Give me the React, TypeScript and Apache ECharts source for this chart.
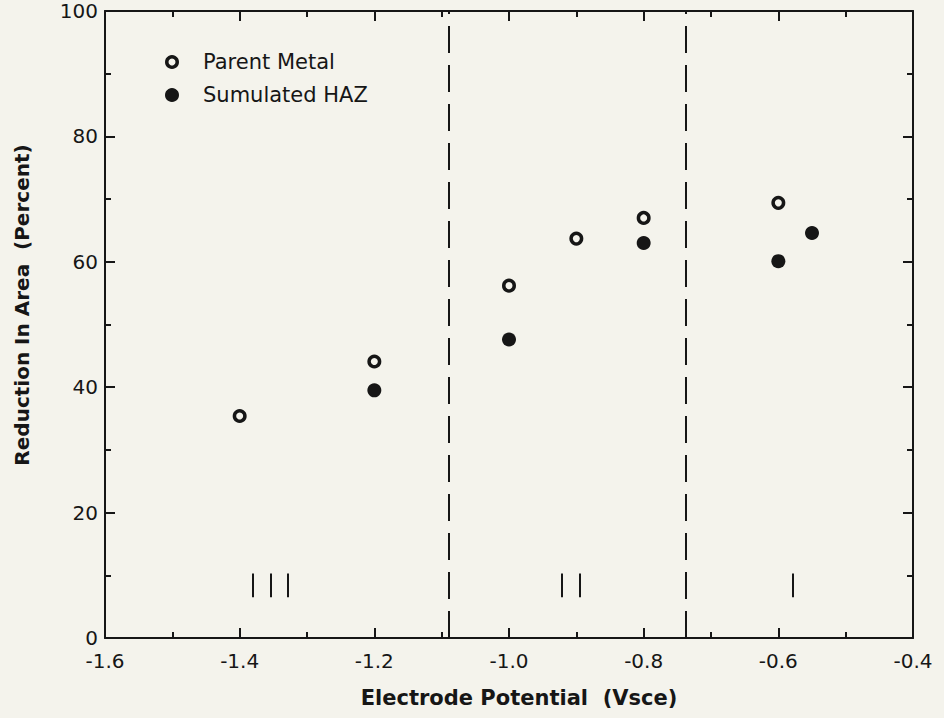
import React, { useEffect, useRef } from "react";
import * as echarts from "echarts";

// Reduction in area versus electrode potential
const parentX = [-1.4, -1.2, -1.0, -0.9, -0.8, -0.6];
const parentY = [35.4, 44.1, 56.2, 63.7, 67.0, 69.4];

const hazX = [-1.2, -1.0, -0.8, -0.6, -0.55];
const hazY = [39.5, 47.6, 63.0, 60.1, 64.6];

// Vertical dashed boundaries between potential regions
const dividerX = [-1.09, -0.737];

// Short marks near the bottom of the plot
const markX = [-1.38, -1.354, -1.329, -0.922, -0.895, -0.578];
const markRange = [6.5, 10.3];

const xTicks = { min: -1.6, max: -0.4, step: 0.2 };
const yTicks = { min: 0, max: 100, step: 20 };

const seriesNames = ["Parent Metal", "Sumulated HAZ"];
const xTitle = "Electrode Potential  (Vsce)";
const yTitle = "Reduction In Area  (Percent)";

const BG = "#f4f3ec";
const INK = "#161616";
const FONT = "'DejaVu Sans', sans-serif";

export default function App() {
  const ref = useRef<HTMLDivElement>(null);

  useEffect(() => {
    document.body.style.margin = "0";
    document.body.style.background = BG;
    if (!ref.current) return;
    const chart = echarts.init(ref.current, null, { renderer: "svg" });

    const tickStyle = {
      axisLine: { show: true, onZero: false, lineStyle: { color: INK, width: 2 } },
      axisTick: { show: true, inside: true, length: 10, lineStyle: { color: INK, width: 2 } },
      minorTick: { show: true, splitNumber: 2, length: 6, lineStyle: { color: INK, width: 2 } },
      splitLine: { show: false },
      minorSplitLine: { show: false },
    };

    const labelStyle = { color: INK, fontFamily: FONT, fontSize: 20, lineHeight: 20 };

    chart.setOption({
      animation: false,
      backgroundColor: BG,
      grid: { left: 105, top: 11, width: 808, height: 627, containLabel: false },
      xAxis: [
        {
          type: "value",
          position: "bottom",
          min: xTicks.min,
          max: xTicks.max,
          interval: xTicks.step,
          ...tickStyle,
          axisLabel: { ...labelStyle, margin: 13, formatter: (v: number) => v.toFixed(1) },
        },
        {
          type: "value",
          position: "top",
          min: xTicks.min,
          max: xTicks.max,
          interval: xTicks.step,
          ...tickStyle,
          axisLabel: { show: false },
        },
      ],
      yAxis: [
        {
          type: "value",
          position: "left",
          min: yTicks.min,
          max: yTicks.max,
          interval: yTicks.step,
          ...tickStyle,
          axisLabel: { ...labelStyle, margin: 7 },
        },
        {
          type: "value",
          position: "right",
          min: yTicks.min,
          max: yTicks.max,
          interval: yTicks.step,
          ...tickStyle,
          axisLabel: { show: false },
        },
      ],
      legend: {
        orient: "vertical",
        left: 160,
        top: 46,
        itemWidth: 52,
        itemHeight: 10.5,
        itemGap: 11,
        textStyle: { color: INK, fontFamily: FONT, fontSize: 21, lineHeight: 22 },
        data: [
          {
            name: seriesNames[0],
            icon: "circle",
            itemStyle: { color: BG, borderColor: INK, borderWidth: 3.5 },
          },
          {
            name: seriesNames[1],
            icon: "circle",
            itemStyle: { color: INK, borderColor: INK, borderWidth: 3.5 },
          },
        ],
      },
      graphic: [
        {
          type: "text",
          x: 519,
          y: 698,
          style: {
            text: xTitle,
            fill: INK,
            font: `bold 21px ${FONT}`,
            align: "center",
            verticalAlign: "middle",
          },
        },
        {
          type: "text",
          x: 22,
          y: 305,
          rotation: Math.PI / 2,
          style: {
            text: yTitle,
            fill: INK,
            font: `bold 20px ${FONT}`,
            align: "center",
            verticalAlign: "middle",
          },
        },
      ],
      series: [
        {
          name: seriesNames[0],
          type: "scatter",
          symbol: "circle",
          symbolSize: 10.5,
          itemStyle: { color: BG, borderColor: INK, borderWidth: 3.5, opacity: 1 },
          data: parentX.map((x, i) => [x, parentY[i]]),
          z: 3,
          markLine: {
            silent: true,
            symbol: "none",
            label: { show: false },
            lineStyle: { color: INK, width: 2, type: [27, 12] },
            data: dividerX.map((x) => [
              { coord: [x, yTicks.min] },
              { coord: [x, yTicks.max] },
            ]),
          },
        },
        {
          name: seriesNames[1],
          type: "scatter",
          symbol: "circle",
          symbolSize: 14,
          itemStyle: { color: INK, opacity: 1 },
          data: hazX.map((x, i) => [x, hazY[i]]),
          z: 3,
          markLine: {
            silent: true,
            symbol: "none",
            label: { show: false },
            lineStyle: { color: INK, width: 2, type: "solid" },
            data: markX.map((x) => [
              { coord: [x, markRange[0]] },
              { coord: [x, markRange[1]] },
            ]),
          },
        },
      ],
    });

    return () => chart.dispose();
  }, []);

  return <div ref={ref} style={{ width: 944, height: 718 }} />;
}
